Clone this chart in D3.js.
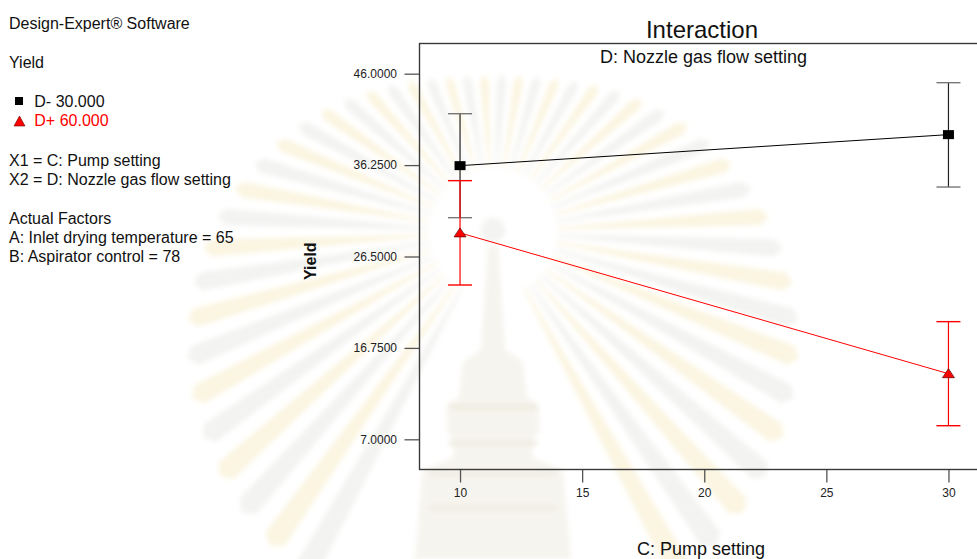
<!DOCTYPE html>
<html>
<head>
<meta charset="utf-8">
<script src="https://cdn.jsdelivr.net/npm/d3@7"></script>
<style>
  body { margin: 0; background: #fff; }
  svg { display: block; }
  text { font-family: "Liberation Sans", Arial, sans-serif; fill: #111; }
</style>
</head>
<body>
<svg id="chart" width="977" height="559"></svg>
<script>
// Factor C levels (x) and predicted Yield for the two levels of factor D
const pumpSetting = [10, 30];

const dMinusMean = [36.19, 39.5];
const dMinusLow  = [30.64, 33.91];
const dMinusHigh = [41.73, 45.04];

const dPlusMean = [29.02, 14.0];
const dPlusLow  = [23.46, 8.45];
const dPlusHigh = [34.59, 19.55];

const yTickValues = [7.0, 16.75, 26.5, 36.25, 46.0];
const xTickValues = [10, 15, 20, 25, 30];

const sideNotes = [
  "Design-Expert\u00AE Software",
  "Yield",
  "X1 = C: Pump setting",
  "X2 = D: Nozzle gas flow setting",
  "Actual Factors",
  "A: Inlet drying temperature = 65",
  "B: Aspirator control = 78"
];
const legendLabels = ["D- 30.000", "D+ 60.000"];

const svg = d3.select("#chart");

// Faint background emblem (sunburst with a crown) behind the chart
const defs = svg.append("defs");
defs.append("filter").attr("id", "soft")
  .attr("x", "-20%").attr("y", "-20%").attr("width", "140%").attr("height", "140%")
  .append("feGaussianBlur").attr("stdDeviation", 2.8);

const emblem = svg.append("g").attr("filter", "url(#soft)");
const ecx = 493, ecy = 232;
const nRays = 56;
const polar = (r, t) => [ecx + r * Math.sin(t), ecy - r * Math.cos(t)];
d3.range(nRays).forEach(i => {
  const t = (i + 0.5) / nRays * 2 * Math.PI;
  if (Math.abs(t - Math.PI) < 0.4) return;          // pedestal sits here
  const half = Math.PI / nRays * 0.55;
  const r0 = 64;
  const r1 = 150 + 125 * (1 - Math.cos(t));
  const pts = [polar(r0, t - half * 0.5), polar(r1, t - half),
               polar(r1 + 8, t), polar(r1, t + half), polar(r0, t + half * 0.5)];
  emblem.append("path")
    .attr("d", d3.line().curve(d3.curveLinearClosed)(pts))
    .attr("fill", i % 2 ? "#fbf5e1" : "#f3f3f1");
});
// crown silhouette
const crown = emblem.append("g").attr("fill", "#f6f4ee");
crown.append("circle").attr("cx", ecx).attr("cy", ecy - 2).attr("r", 12).attr("fill", "#f3f3f1");
crown.append("path").attr("d",
  `M${ecx - 5},246 L${ecx + 5},246 L${ecx + 12},350 L${ecx + 30},362 L${ecx + 34},398
   L${ecx + 46},404 L${ecx + 46},432 L${ecx + 38},440 L${ecx + 40},458
   L${ecx + 70},470 L${ecx + 78},559 L${ecx - 78},559 L${ecx - 70},470
   L${ecx - 40},458 L${ecx - 38},440 L${ecx - 46},432 L${ecx - 46},404
   L${ecx - 34},398 L${ecx - 30},362 L${ecx - 12},350 Z`);
crown.selectAll("rect.band").data([404, 440, 470, 505]).join("rect")
  .attr("class", "band")
  .attr("x", d => ecx - (d > 460 ? 64 : 44)).attr("y", d => d)
  .attr("width", d => (d > 460 ? 128 : 88)).attr("height", 6)
  .attr("fill", "#f0ede3");

// Plot area
const frame = { left: 419.5, top: 43.5, bottom: 469.5, right: 989 };
const x = d3.scaleLinear().domain([8.34, 31.66]).range([frame.left, frame.right]);
const y = d3.scaleLinear().domain([3.78, 49.22]).range([frame.bottom, frame.top]);

// Left-hand notes
const notes = svg.append("g");
const noteRows = [
  { t: sideNotes[0], y: 29 },
  { t: sideNotes[1], y: 67.5 },
  { t: sideNotes[2], y: 165.7 },
  { t: sideNotes[3], y: 185 },
  { t: sideNotes[4], y: 223.7 },
  { t: sideNotes[5], y: 243 },
  { t: sideNotes[6], y: 262.3 }
];
notes.selectAll("text.note").data(noteRows).join("text")
  .attr("class", "note")
  .attr("x", 9).attr("y", d => d.y)
  .style("font-size", "16px")
  .text(d => d.t);

// Legend
notes.append("rect").attr("x", 15).attr("y", 97).attr("width", 8).attr("height", 8)
  .attr("fill", "#000");
notes.append("path").attr("d", "M19.5,116 L25,126 L14,126 Z")
  .attr("fill", "#ff0000").attr("stroke", "#600").attr("stroke-width", 0.6);
notes.append("text").attr("x", 34.3).attr("y", 106.7).style("font-size", "16px")
  .text(legendLabels[0]);
notes.append("text").attr("x", 34.3).attr("y", 126.3).style("font-size", "16px")
  .style("fill", "#ff0000").text(legendLabels[1]);

// Axes
const yAxis = d3.axisLeft(y).tickValues(yTickValues)
  .tickFormat(d3.format(".4f")).tickSize(15).tickPadding(7.5);
const gy = svg.append("g").attr("transform", `translate(${frame.left},0)`).call(yAxis);
gy.select(".domain").remove();
gy.selectAll(".tick line").attr("stroke", "#555").attr("stroke-width", 1.3);
gy.selectAll(".tick text").style("font-size", "12px").style("fill", "#222")
  .style("font-family", "'Liberation Sans', Arial, sans-serif");

const xAxis = d3.axisBottom(x).tickValues(xTickValues).tickSize(13).tickPadding(5.5);
const gx = svg.append("g").attr("transform", `translate(0,${frame.bottom})`).call(xAxis);
gx.select(".domain").remove();
gx.selectAll(".tick line").attr("stroke", "#555").attr("stroke-width", 1.3);
gx.selectAll(".tick text").style("font-size", "12px").style("fill", "#222")
  .style("font-family", "'Liberation Sans', Arial, sans-serif");

// Frame
svg.append("rect")
  .attr("x", frame.left).attr("y", frame.top)
  .attr("width", frame.right - frame.left).attr("height", frame.bottom - frame.top)
  .attr("fill", "none").attr("stroke", "#3a3a3a").attr("stroke-width", 1.4);

// Titles
svg.append("text").attr("x", 702).attr("y", 38.3).attr("text-anchor", "middle")
  .style("font-size", "24px").text("Interaction");
svg.append("text").attr("x", 703.5).attr("y", 63.3).attr("text-anchor", "middle")
  .style("font-size", "18px").text("D: Nozzle gas flow setting");
svg.append("text").attr("x", 701).attr("y", 554.5).attr("text-anchor", "middle")
  .style("font-size", "18px").text("C: Pump setting");
svg.append("text")
  .attr("transform", "translate(315.5,261.2) rotate(-90)")
  .attr("text-anchor", "middle")
  .style("font-size", "16px").style("font-weight", "bold").text("Yield");

// Series
const series = [
  { mean: dMinusMean, low: dMinusLow, high: dMinusHigh, color: "#000",
    bar: "#222", cap: "#777", shape: "square" },
  { mean: dPlusMean, low: dPlusLow, high: dPlusHigh, color: "#ff0000",
    bar: "#ff0000", cap: "#ff0000", shape: "triangle" }
];
const capHalf = 12;

series.forEach(s => {
  const pts = pumpSetting.map((c, i) => ({ c, m: s.mean[i], lo: s.low[i], hi: s.high[i] }));
  const g = svg.append("g");

  // error bars
  g.selectAll("line.v").data(pts).join("line").attr("class", "v")
    .attr("x1", d => x(d.c)).attr("x2", d => x(d.c))
    .attr("y1", d => y(d.lo)).attr("y2", d => y(d.hi))
    .attr("stroke", s.bar).attr("stroke-width", 1.2);
  ["lo", "hi"].forEach(k => {
    g.selectAll("line.cap" + k).data(pts).join("line").attr("class", "cap" + k)
      .attr("x1", d => x(d.c) - capHalf).attr("x2", d => x(d.c) + capHalf)
      .attr("y1", d => y(d[k])).attr("y2", d => y(d[k]))
      .attr("stroke", s.cap).attr("stroke-width", 1.4);
  });

  // connecting line
  g.append("path").datum(pts)
    .attr("d", d3.line().x(d => x(d.c)).y(d => y(d.m)))
    .attr("fill", "none").attr("stroke", s.color).attr("stroke-width", 1);

  // markers
  if (s.shape === "square") {
    g.selectAll("rect.m").data(pts).join("rect").attr("class", "m")
      .attr("x", d => x(d.c) - 5.5).attr("y", d => y(d.m) - 4.5)
      .attr("width", 11).attr("height", 9).attr("fill", "#000");
  } else {
    g.selectAll("path.m").data(pts).join("path").attr("class", "m")
      .attr("d", d => {
        const cx = x(d.c), cy = y(d.m);
        return `M${cx},${cy - 5} L${cx + 6},${cy + 4} L${cx - 6},${cy + 4} Z`;
      })
      .attr("fill", "#ff0000").attr("stroke", "#500").attr("stroke-width", 0.7);
  }
});
</script>
</body>
</html>
